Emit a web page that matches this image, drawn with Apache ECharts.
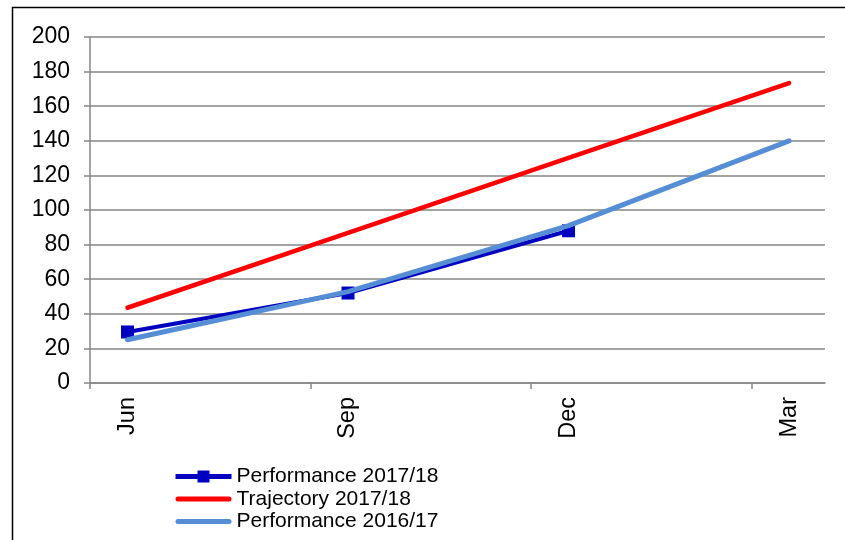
<!DOCTYPE html>
<html>
<head>
<meta charset="utf-8">
<script src="https://cdn.jsdelivr.net/npm/echarts@6/dist/echarts.min.js"></script>
<style>
html,body{margin:0;padding:0;background:#fff;}
#chart{width:845px;height:540px;}
</style>
</head>
<body>
<div id="chart"></div>
<script>
const categories = ['Jun', 'Sep', 'Dec', 'Mar'];
const perf1718 = [29.5, 52, 88, null];
const traj1718 = [43.5, 86.8, 130.1, 173.4];
const perf1617 = [25, 52.8, 91, 140];
const yTicks = [0, 20, 40, 60, 80, 100, 120, 140, 160, 180, 200];
const seriesNames = ['Performance 2017/18', 'Trajectory 2017/18', 'Performance 2016/17'];
const colors = ['#0000C0', '#FF0000', '#558ED5'];

function toPairs(arr) {
  return arr.map((v, i) => [i, v === null ? '-' : v]);
}

const chart = echarts.init(document.getElementById('chart'), null, {renderer: 'canvas'});
const font = 'Liberation Sans, Arial, sans-serif';
const gridColor = '#868686';
const barIcon = 'path://M2.5,0H53.5A2.5,2.5,0,0,1,53.5,5H2.5A2.5,2.5,0,0,1,2.5,0Z';

chart.setOption({
  animation: false,
  backgroundColor: '#ffffff',
  graphic: [{
    type: 'rect',
    shape: {x: 12.5, y: 7.5, width: 900, height: 600},
    style: {fill: 'none', stroke: '#000', lineWidth: 1.5},
    silent: true,
    z: -1
  }],
  grid: {left: 90, right: 20, top: 37, bottom: 157, containLabel: false},
  legend: {
    orient: 'vertical',
    left: 173,
    top: 466,
    padding: 0,
    itemWidth: 56,
    itemHeight: 15,
    itemGap: 1.5,
    lineStyle: {width: 5},
    textStyle: {fontFamily: font, fontSize: 21, color: '#000'},
    data: [
      {name: seriesNames[0]},
      {name: seriesNames[1], icon: barIcon, itemStyle: {color: colors[1]}},
      {name: seriesNames[2], icon: barIcon, itemStyle: {color: colors[2]}}
    ]
  },
  xAxis: {
    type: 'value',
    min: -0.17,
    max: 3.163,
    axisLine: {show: true, lineStyle: {color: gridColor, width: 1.5}},
    axisTick: {show: true, length: 6, customValues: [-0.17, 0.83, 1.83, 2.83], lineStyle: {color: gridColor, width: 1.5}},
    axisLabel: {
      show: true,
      customValues: [0, 1, 2, 3],
      rotate: 90,
      margin: 14,
      fontFamily: font,
      fontSize: 23.5,
      color: '#000',
      formatter: function (v) { return categories[Math.round(v)]; }
    },
    splitLine: {show: false}
  },
  yAxis: {
    type: 'value',
    min: yTicks[0],
    max: yTicks[yTicks.length - 1],
    interval: yTicks[1] - yTicks[0],
    axisLine: {show: true, onZero: false, lineStyle: {color: gridColor, width: 1.5}},
    axisTick: {show: true, length: 6, lineStyle: {color: gridColor, width: 1.5}},
    axisLabel: {margin: 20, fontFamily: font, fontSize: 23, color: '#000'},
    splitLine: {show: true, lineStyle: {color: gridColor, width: 1.5}}
  },
  series: [
    {
      name: seriesNames[0],
      type: 'line',
      data: toPairs(perf1718),
      symbol: 'rect',
      symbolSize: 13,
      itemStyle: {color: colors[0]},
      lineStyle: {color: colors[0], width: 4},
      z: 2
    },
    {
      name: seriesNames[1],
      type: 'line',
      data: toPairs(traj1718),
      symbol: 'none',
      itemStyle: {color: colors[1]},
      lineStyle: {color: colors[1], width: 4.5, cap: 'round'},
      z: 3
    },
    {
      name: seriesNames[2],
      type: 'line',
      data: toPairs(perf1617),
      symbol: 'none',
      itemStyle: {color: colors[2]},
      lineStyle: {color: colors[2], width: 5, cap: 'round'},
      z: 4
    }
  ]
});
</script>
</body>
</html>
